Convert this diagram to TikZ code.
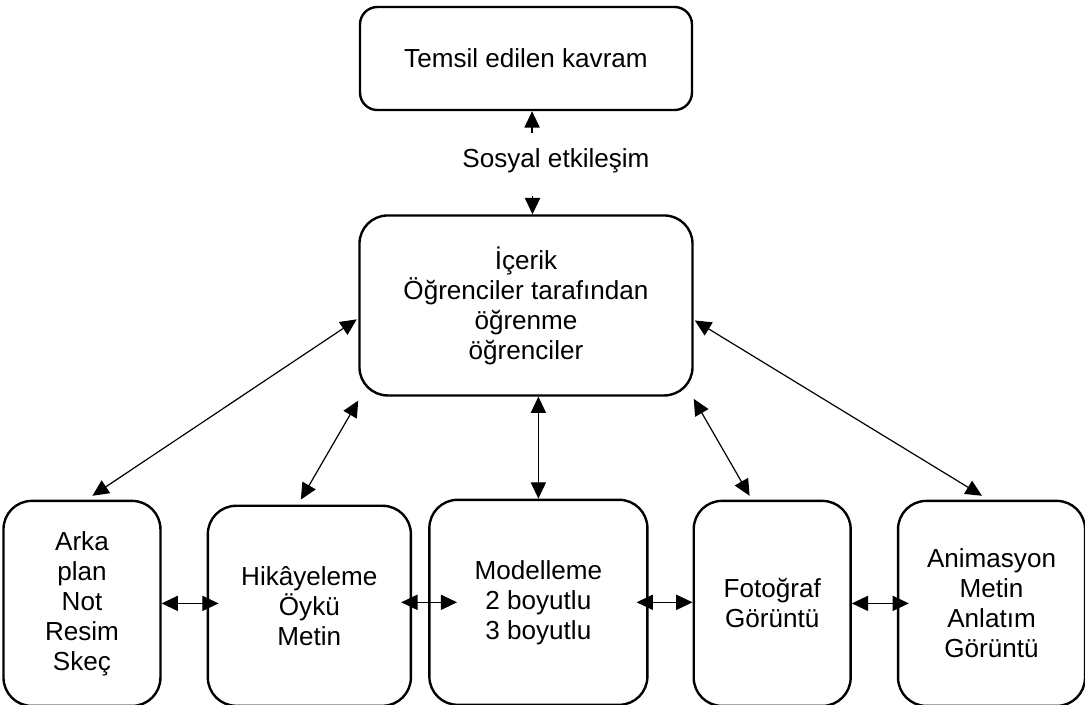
\documentclass[tikz,border=0pt]{standalone}
\usepackage{fontspec}
\setmainfont{Liberation Sans}
\usepackage{tikz}
\usetikzlibrary{arrows.meta, positioning, calc}
\newcommand{\boxfont}{\fontsize{12pt}{13.8pt}\selectfont}
\tikzstyle{concept} = [rectangle, rounded corners = 8pt, minimum width = 152.7pt, minimum height = 47.4pt, inner sep = 2pt, align = center, draw = black, line width = 1.1pt, font = \boxfont]
\tikzstyle{content} = [concept, rounded corners = 13pt, minimum width = 153.2pt, minimum height = 82.8pt]
\tikzstyle{form} = [concept, rounded corners = 13pt, minimum height = 94.3pt]
\tikzstyle{linktext} = [inner sep = 0pt, font = \boxfont]
\tikzstyle{oneway} = [line width = 0.55pt, -{Triangle[length = 7.5pt, width = 7pt]}]
\tikzstyle{twoway} = [line width = 0.55pt, {Triangle[length = 7.5pt, width = 7pt]}-{Triangle[length = 7.5pt, width = 7pt]}]
\begin{document}
\begin{tikzpicture}
\useasboundingbox (-241.96pt, -297.39pt) rectangle (257.14pt, 26.91pt);

%NODES
\node (kavram) [concept] at (0, 0) {Temsil edilen kavram};
\node (icerik) [content, below = 47.4pt of kavram] {İçerik \\ Öğrenciler tarafından \\ öğrenme \\ öğrenciler};
\node (sosyal) [linktext] at ($(kavram.south)!0.5!(icerik.north) + (13.8pt, 0.7pt)$) {Sosyal etkileşim};
\node (model) [form, minimum width = 100.3pt, below = 46.9pt of icerik, xshift = 5.7pt] {Modelleme \\ 2 boyutlu \\ 3 boyutlu};
\node (hikaye) [form, minimum width = 93.4pt, minimum height = 92pt, left = 7.4pt of model, yshift = -1.6pt] {Hikâyeleme \\ Öykü \\ Metin};
\node (arka) [form, minimum width = 72.2pt, left = 20.7pt of hikaye, yshift = 1.1pt] {Arka \\ plan \\ Not \\ Resim \\ Skeç};
\node (foto) [form, minimum width = 72.2pt, right = 20.2pt of model, yshift = -0.5pt] {Fotoğraf \\ Görüntü};
\node (anim) [form, minimum width = 86pt, right = 20.7pt of foto] {Animasyon \\ Metin \\ Anlatım \\ Görüntü};

%ARROWS
\coordinate (uptail) at ($(kavram.south) + (2.8pt, -10.1pt)$);
\coordinate (downtail) at ($(icerik.north) + (3pt, 8.3pt)$);
\draw [oneway] (uptail) -- (uptail |- kavram.south);
\draw [oneway] (downtail) -- (downtail |- icerik.north);

\draw [twoway] ($(icerik.west) + (-0.7pt, -6.4pt)$) -- ($(arka.north) + (4.8pt, 1.8pt)$);
\draw [twoway] ($(icerik.south west) + (0, -1.8pt)$) -- ($(hikaye.north) + (-3.9pt, 2.3pt)$);
\draw [twoway] (model.north) -- (model.north |- icerik.south);
\draw [twoway] ($(icerik.south east) + (0, -1pt)$) -- ($(foto.north) + (-10.4pt, 1.8pt)$);
\draw [twoway] ($(icerik.east) + (0.5pt, -6.9pt)$) -- ($(anim.north) + (-4.4pt, 1.8pt)$);

\draw [twoway] (arka.east) -- ($(arka.east -| hikaye.west) + (5.5pt, 0)$);
\draw [twoway] ($(model.west -| hikaye.east) + (-5pt, 0)$) -- ($(model.west) + (13.3pt, 0)$);
\draw [twoway] ($(model.east) + (-5.5pt, 0)$) -- (model.east -| foto.west);
\draw [twoway] (foto.east) -- ($(foto.east -| anim.west) + (5.5pt, 0)$);

\end{tikzpicture}
\end{document}
